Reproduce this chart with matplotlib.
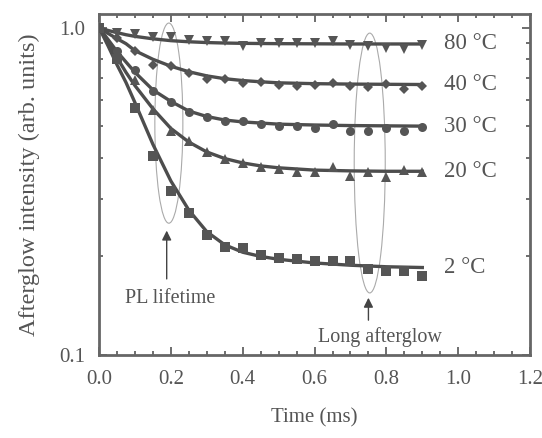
import numpy as np
import matplotlib.pyplot as plt
from matplotlib.patches import Ellipse
from matplotlib.ticker import MultipleLocator, LogLocator, NullFormatter, FixedLocator, FixedFormatter

plt.rcParams['font.family'] = ['Liberation Serif', 'DejaVu Serif']

# measured points, every 0.05 ms from 0 to 0.9
t = [0.0, 0.05, 0.1, 0.15, 0.2, 0.25, 0.3, 0.35, 0.4, 0.45,
     0.5, 0.55, 0.6, 0.65, 0.7, 0.75, 0.8, 0.85, 0.9]
i80 = [1.0, 0.963, 0.955, 0.934, 0.934, 0.919, 0.912, 0.91, 0.88, 0.9,
       0.9, 0.9, 0.898, 0.908, 0.887, 0.878, 0.868, 0.862, 0.885]
i40 = [1.0, 0.93, 0.846, 0.771, 0.762, 0.727, 0.698, 0.698, 0.678, 0.68,
       0.669, 0.665, 0.669, 0.678, 0.662, 0.657, 0.673, 0.649, 0.665]
i30 = [1.0, 0.846, 0.744, 0.638, 0.593, 0.551, 0.535, 0.52, 0.52, 0.509,
       0.499, 0.502, 0.494, 0.508, 0.482, 0.482, 0.494, 0.482, 0.496]
i20 = [1.0, 0.82, 0.69, 0.561, 0.482, 0.449, 0.418, 0.397, 0.385, 0.375,
       0.37, 0.361, 0.361, 0.376, 0.353, 0.361, 0.349, 0.368, 0.361]
i2 = [1.0, 0.80, 0.57, 0.404, 0.316, 0.271, 0.233, 0.213, 0.212, 0.202,
      0.198, 0.197, 0.194, 0.194, 0.194, 0.183, 0.18, 0.18, 0.174]

# fitted curves
tf = [0.0, 0.025, 0.05, 0.075, 0.1, 0.15, 0.2, 0.25, 0.3, 0.35, 0.4,
      0.45, 0.5, 0.6, 0.7, 0.8, 0.9]
f80 = [1.0, 0.98, 0.965, 0.951, 0.94, 0.924, 0.912, 0.905, 0.9, 0.897, 0.895,
       0.894, 0.893, 0.892, 0.891, 0.891, 0.891]
f40 = [1.0, 0.96, 0.925, 0.893, 0.85, 0.80, 0.762, 0.733, 0.712, 0.698, 0.689,
       0.683, 0.678, 0.674, 0.672, 0.671, 0.67]
f30 = [1.0, 0.92, 0.845, 0.785, 0.73, 0.645, 0.595, 0.556, 0.535, 0.522, 0.515,
       0.511, 0.507, 0.504, 0.502, 0.501, 0.5]
f20 = [1.0, 0.90, 0.81, 0.73, 0.665, 0.565, 0.492, 0.447, 0.417, 0.398, 0.386,
       0.378, 0.373, 0.367, 0.365, 0.364, 0.364]
f2 = [1.0, 0.88, 0.77, 0.68, 0.59, 0.44, 0.34, 0.277, 0.238, 0.217, 0.206,
      0.2, 0.196, 0.191, 0.188, 0.186, 0.185]

labels = ['80 °C', '40 °C', '30 °C', '20 °C', '2 °C']
markers = ['v', 'D', 'o', '^', 's']
pts = [i80, i40, i30, i20, i2]
fits = [f80, f40, f30, f20, f2]

gray = '#555555'
fig = plt.figure(figsize=(5.42, 4.38), dpi=100)
ax = fig.add_axes([0.1827, 0.1895, 0.7953, 0.7785])

for y, fy, m, lab in zip(pts, fits, markers, labels):
    ax.plot(tf, fy, '-', color='#4d4d4d', lw=2.4, zorder=3)
    ax.plot(t, y, m, color=gray, ms=6.5 if m != 'D' else 5.5, mew=0, zorder=4)
    ax.text(0.96, fy[-1], lab, fontsize=16.5, color=gray, va='center', ha='left')

ax.set_yscale('log')
ax.set_xlim(0, 1.2)
ax.set_ylim(0.1, 1.1)
ax.xaxis.set_major_locator(MultipleLocator(0.2))
ax.xaxis.set_minor_locator(MultipleLocator(0.05))
ax.xaxis.set_major_formatter(plt.FormatStrFormatter('%.1f'))
ax.yaxis.set_major_locator(FixedLocator([0.1, 1.0]))
ax.yaxis.set_major_formatter(FixedFormatter(['0.1', '1.0']))
ax.yaxis.set_minor_locator(LogLocator(base=10, subs=np.arange(2, 10)))
ax.yaxis.set_minor_formatter(NullFormatter())
ax.tick_params(which='both', direction='in', top=True, right=True,
               colors=gray, labelsize=15, width=1.2)
ax.tick_params(axis='x', which='major', length=6, pad=11)
ax.tick_params(axis='y', which='major', length=6, pad=10)
ax.tick_params(which='minor', length=3)
for s in ax.spines.values():
    s.set_color('#666666')
    s.set_linewidth(2)

ax.set_xlabel('Time (ms)', fontsize=15, color=gray, labelpad=14)
ax.set_ylabel('Afterglow intensity (arb. units)', fontsize=17.5, color=gray, labelpad=14)

# annotations
ax.add_patch(Ellipse((0.162, 0.68), 0.065, 0.587, transform=ax.transAxes,
                     fill=False, ec='#aaaaaa', lw=0.8, zorder=2))
ax.add_patch(Ellipse((0.628, 0.563), 0.072, 0.762, transform=ax.transAxes,
                     fill=False, ec='#aaaaaa', lw=0.8, zorder=2))
ax.annotate('', xy=(0.157, 0.373), xytext=(0.157, 0.215), xycoords='axes fraction',
            arrowprops=dict(arrowstyle='-|>', color='#444444', lw=1, mutation_scale=14))
ax.annotate('', xy=(0.625, 0.176), xytext=(0.625, 0.094), xycoords='axes fraction',
            arrowprops=dict(arrowstyle='-|>', color='#444444', lw=1, mutation_scale=14))
ax.text(0.164, 0.167, 'PL lifetime', transform=ax.transAxes, fontsize=14.5,
        color=gray, ha='center', va='center')
ax.text(0.652, 0.053, 'Long afterglow', transform=ax.transAxes, fontsize=14.5,
        color=gray, ha='center', va='center')

plt.savefig('out.png', dpi=100)
